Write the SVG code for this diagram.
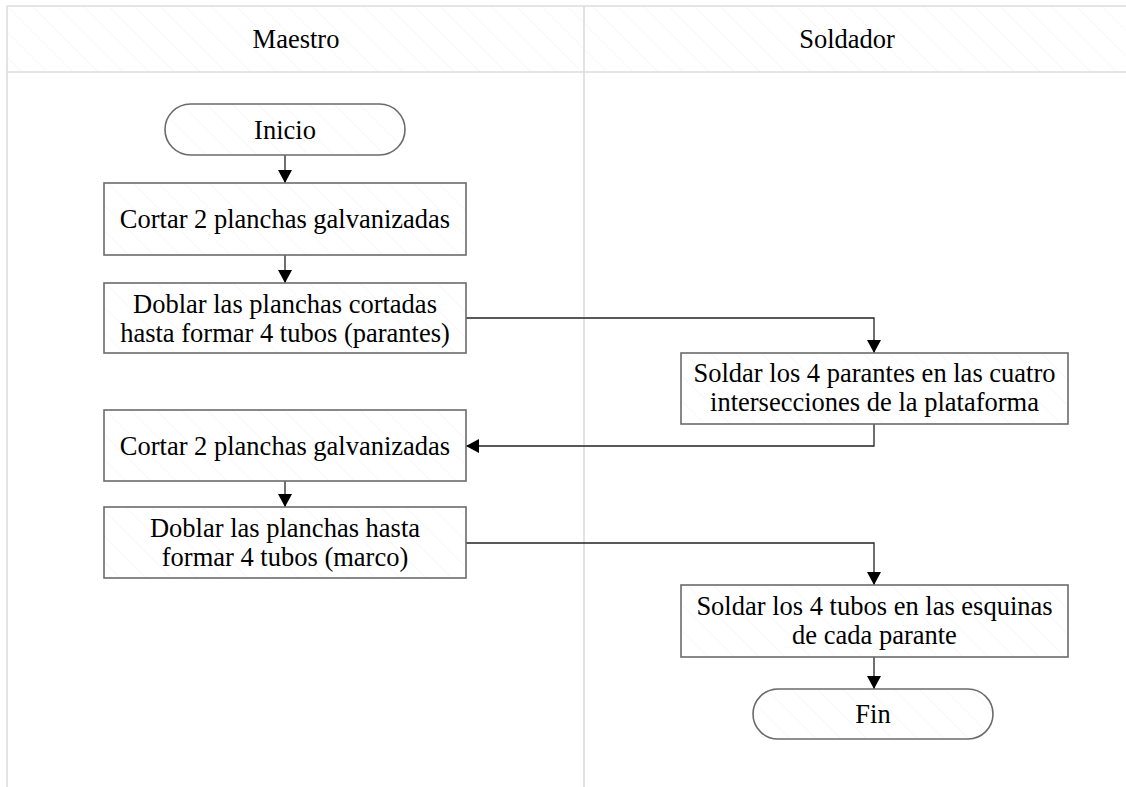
<svg xmlns="http://www.w3.org/2000/svg" width="1126" height="787" viewBox="0 0 1126 787">
  <style>
    .lane { fill: none; stroke: #dcdcdc; stroke-width: 1.6; }
    .shape { fill: url(#hatch); stroke: #6b6b6b; stroke-width: 1.6; }
    .label { font-family: 'Liberation Serif', 'Times New Roman', Times, 'DejaVu Serif', serif; font-size: 26.5px; fill: #000; text-anchor: middle; }
    .flow { fill: none; stroke: #222; stroke-width: 1.3; marker-end: url(#arrow); }
  </style>
  <defs>
    <pattern id="hatch" patternUnits="userSpaceOnUse" width="18" height="18" patternTransform="rotate(-45)">
      <rect width="18" height="18" fill="#ffffff"/>
      <line x1="0" y1="0" x2="0" y2="18" stroke="#f4f4f4" stroke-width="1.2"/>
    </pattern>
    <marker id="arrow" markerUnits="userSpaceOnUse" markerWidth="14" markerHeight="14" refX="13" refY="7" orient="auto">
      <path d="M0,0 L13,7 L0,14 Z" fill="#000"/>
    </marker>
  </defs>

  <rect width="1126" height="787" fill="#ffffff"/>

  <!-- swimlane pool -->
  <g id="pool">
    <rect x="7" y="6" width="1125" height="66" fill="url(#hatch)" stroke="none"/>
    <line class="lane" x1="7" y1="6" x2="1126" y2="6"/>
    <line class="lane" x1="7" y1="72" x2="1126" y2="72"/>
    <line class="lane" x1="7" y1="6" x2="7" y2="787"/>
    <line class="lane" x1="584" y1="6" x2="584" y2="787"/>
    <text class="label" x="296" y="48" font-family="Liberation Serif, serif">Maestro</text>
    <text class="label" x="847" y="48" font-family="Liberation Serif, serif">Soldador</text>
  </g>

  <!-- connectors -->
  <g id="connectors">
    <path class="flow" d="M285,155 L285,183"/>
    <path class="flow" d="M285,255 L285,283"/>
    <path class="flow" d="M466,318 L874,318 L874,353"/>
    <path class="flow" d="M874,424 L874,446 L466,446"/>
    <path class="flow" d="M285,481 L285,507"/>
    <path class="flow" d="M466,543 L874,543 L874,585"/>
    <path class="flow" d="M874,657 L874,689"/>
  </g>

  <!-- nodes -->
  <g id="inicio">
    <rect class="shape" x="165" y="104" width="240" height="51" rx="25.5"/>
    <text class="label" x="285" y="138.5">Inicio</text>
  </g>
  <g id="cortar1">
    <rect class="shape" x="104" y="183" width="362" height="72"/>
    <text class="label" x="285" y="228">Cortar 2 planchas galvanizadas</text>
  </g>
  <g id="doblar1">
    <rect class="shape" x="104" y="283" width="362" height="70"/>
    <text class="label" x="285" y="313">Doblar las planchas cortadas</text>
    <text class="label" x="285" y="342">hasta formar 4 tubos (parantes)</text>
  </g>
  <g id="soldar1">
    <rect class="shape" x="681" y="353" width="387" height="71"/>
    <text class="label" x="874.5" y="382">Soldar los 4 parantes en las cuatro</text>
    <text class="label" x="874.5" y="411">intersecciones de la plataforma</text>
  </g>
  <g id="cortar2">
    <rect class="shape" x="104" y="410" width="362" height="71"/>
    <text class="label" x="285" y="455">Cortar 2 planchas galvanizadas</text>
  </g>
  <g id="doblar2">
    <rect class="shape" x="104" y="507" width="362" height="71"/>
    <text class="label" x="285" y="537">Doblar las planchas hasta</text>
    <text class="label" x="285" y="566">formar 4 tubos (marco)</text>
  </g>
  <g id="soldar2">
    <rect class="shape" x="681" y="585" width="387" height="72"/>
    <text class="label" x="874.5" y="615">Soldar los 4 tubos en las esquinas</text>
    <text class="label" x="874.5" y="644">de cada parante</text>
  </g>
  <g id="fin">
    <rect class="shape" x="753" y="689" width="240" height="50" rx="25"/>
    <text class="label" x="873" y="723">Fin</text>
  </g>
</svg>
